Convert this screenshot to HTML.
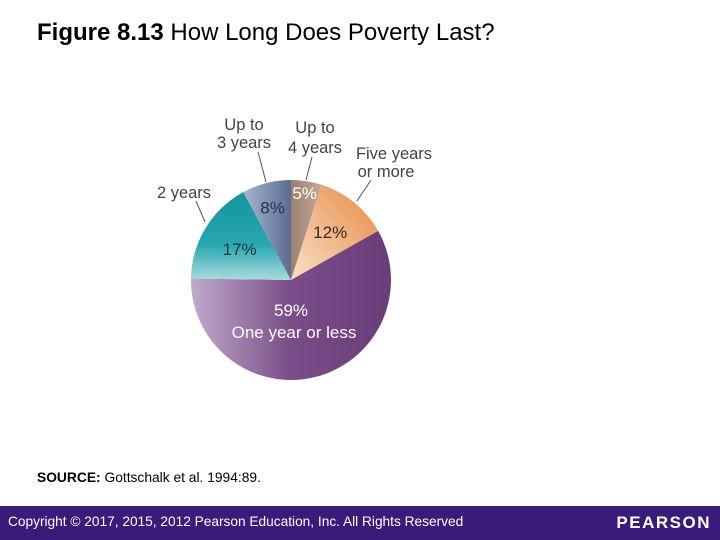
<!DOCTYPE html>
<html><head><meta charset="utf-8"><style>
body{margin:0;width:720px;height:540px;background:#fff;position:relative;overflow:hidden;font-family:"Liberation Sans",sans-serif}
#title{position:absolute;left:37px;top:19px;font-size:24px;color:#000}
#src{position:absolute;left:37px;top:470px;font-size:13.8px;color:#000}
#footer{position:absolute;left:0;top:506px;width:720px;height:34px;background:#3a1a7a}
#copy{position:absolute;left:8px;top:8px;font-size:13.7px;color:#fff}
#logo{position:absolute;right:9px;top:7px;font-size:17px;color:#fff;letter-spacing:1.5px;font-weight:bold}
</style></head><body>
<div id="title"><b>Figure 8.13</b> How Long Does Poverty Last?</div>
<svg id="chart" width="720" height="540" style="position:absolute;left:0;top:0">
<defs>
<linearGradient id="g0" x1="0" y1="0" x2="1" y2="0"><stop offset="0" stop-color="#9a8070"/><stop offset="1" stop-color="#c4a89a"/></linearGradient>
<linearGradient id="g1" x1="0" y1="1" x2="1" y2="0"><stop offset="0" stop-color="#fbe0c8"/><stop offset="1" stop-color="#e58a44"/></linearGradient>
<linearGradient id="g2" x1="0" y1="0" x2="1" y2="0"><stop offset="0" stop-color="#c0aacb"/><stop offset="0.5" stop-color="#7a4d88"/><stop offset="1" stop-color="#6a3d78"/></linearGradient>
<linearGradient id="g3" x1="0" y1="0" x2="0" y2="1"><stop offset="0" stop-color="#13939e"/><stop offset="0.6" stop-color="#28a7b0"/><stop offset="1" stop-color="#a9dbdd"/></linearGradient>
<linearGradient id="g4" x1="0" y1="0" x2="1" y2="0"><stop offset="0" stop-color="#a7b6d0"/><stop offset="1" stop-color="#5b6c92"/></linearGradient>
</defs>
<g id="slices"></g>
<g id="labels" font-family="Liberation Sans, sans-serif"></g>
</svg>
<div id="src"><b>SOURCE:</b> Gottschalk et al. 1994:89.</div>
<div id="footer">
<div id="copy">Copyright © 2017, 2015, 2012 Pearson Education, Inc. All Rights Reserved</div>
<div id="logo">PEARSON</div>
</div>
<script>
const categories=["Up to 4 years","Five years or more","One year or less","2 years","Up to 3 years"];
const values=[5,12,59,17,8];
const fills=["url(#g0)","url(#g1)","url(#g2)","url(#g3)","url(#g4)"];
const cx=291,cy=280,r=100;
const total=values.reduce((a,b)=>a+b,0);
const ns="http://www.w3.org/2000/svg";
const sg=document.getElementById('slices');
let a=0;
function pt(ang,rad){return [cx+rad*Math.sin(ang),cy-rad*Math.cos(ang)];}
const mids=[];
values.forEach((v,i)=>{
  const a0=a,a1=a+v/total*2*Math.PI;a=a1;
  const p0=pt(a0,r),p1=pt(a1,r);
  const p=document.createElementNS(ns,'path');
  p.setAttribute('d',`M${cx},${cy}L${p0[0]},${p0[1]}A${r},${r} 0 ${a1-a0>Math.PI?1:0} 1 ${p1[0]},${p1[1]}Z`);
  p.setAttribute('fill',fills[i]);
  
  
  sg.appendChild(p);
  mids.push((a0+a1)/2);
});
const lg=document.getElementById('labels');
function txt(x,y,s,col,size,name){
  const t=document.createElementNS(ns,'text');
  t.setAttribute('x',x);t.setAttribute('y',y);t.setAttribute('fill',col);
  t.setAttribute('font-size',size);t.setAttribute('text-anchor','middle');
  t.textContent=s;
  
  
  lg.appendChild(t);
}
const pctR=[88,62,0,60,75];
const pctCol=["#fff","#3a2a2a","#fff","#1a3a40","#2a3050"];
values.forEach((v,i)=>{
  if(i===2){txt(291,316,v+"%","#fff",17,'value-label');txt(294,338,categories[i],"#fff",17,'category-label');return;}
  const p=pt(mids[i],pctR[i]);
  txt(p[0],p[1]+6,v+"%",pctCol[i],17,'value-label');
});
const col="#444";
const fs=16.5;
txt(244,130,"Up to",col,fs,'category-label');txt(244,148,"3 years",col,fs,'category-label');
txt(315,133,"Up to",col,fs,'category-label');txt(315,153,"4 years",col,fs,'category-label');
txt(394,159,"Five years",col,fs,'category-label');txt(386,177,"or more",col,fs,'category-label');
txt(184,198,"2 years",col,fs,'category-label');
[[[258,152],[266,182]],[[312,157],[306,180]],[[371,180],[357,201]],[[196,201],[205,222]]].forEach(l=>{
  const ln=document.createElementNS(ns,'line');
  ln.setAttribute('x1',l[0][0]);ln.setAttribute('y1',l[0][1]);ln.setAttribute('x2',l[1][0]);ln.setAttribute('y2',l[1][1]);
  ln.setAttribute('stroke','#555');ln.setAttribute('stroke-width','1');
  
  
  lg.appendChild(ln);
});
</script>
</body></html>
